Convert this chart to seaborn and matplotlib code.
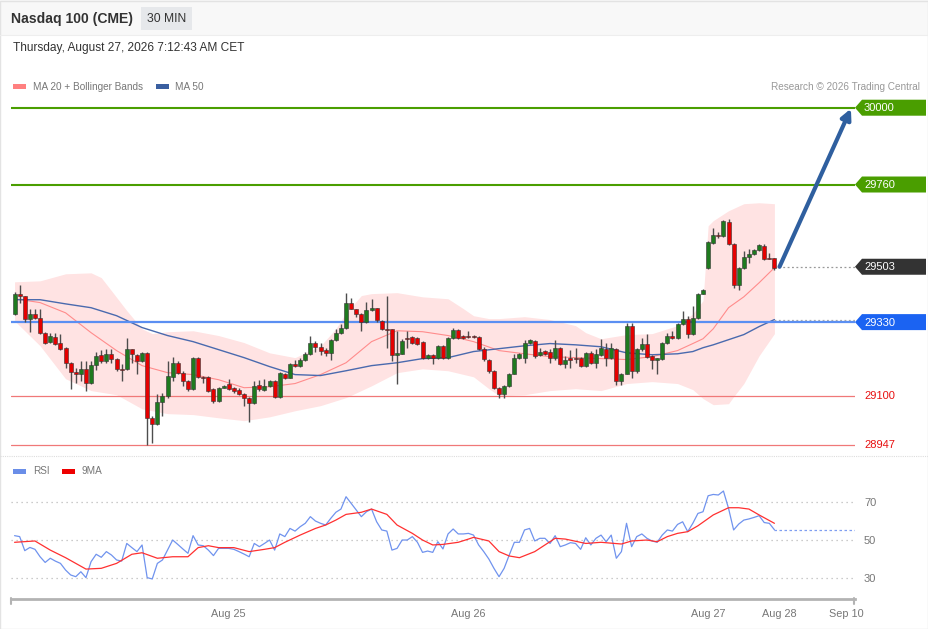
import matplotlib
matplotlib.use('Agg')
import matplotlib.pyplot as plt
from matplotlib.patches import Rectangle, Polygon
import seaborn as sns
import numpy as np
import pandas as pd

# 30분봉 캔들
opens = [29356, 29419, 29413, 29341, 29356, 29344, 29297, 29269, 29284, 29266,
         29250, 29203, 29175, 29169, 29184, 29141, 29197, 29228, 29209, 29231,
         29216, 29184, 29184, 29247, 29228, 29209, 29234, 29031, 29013, 29081,
         29100, 29159, 29203, 29172, 29147, 29122, 29219, 29159, 29159, 29122,
         29084, 29125, 29138, 29125, 29119, 29106, 29094, 29078, 29134, 29119,
         29131, 29147, 29097, 29169, 29156, 29200, 29194, 29213, 29231, 29266,
         29253, 29244, 29234, 29275, 29297, 29313, 29391, 29372, 29356, 29331,
         29369, 29375, 29334, 29309, 29309, 29228, 29231, 29281, 29284, 29281,
         29269, 29219, 29228, 29219, 29256, 29219, 29281, 29306, 29288, 29288,
         29288, 29284, 29247, 29213, 29178, 29125, 29106, 29131, 29169, 29219,
         29219, 29266, 29272, 29228, 29241, 29238, 29219, 29250, 29200, 29219,
         29219, 29219, 29194, 29234, 29203, 29228, 29247, 29219, 29247, 29147,
         29169, 29319, 29178, 29247, 29263, 29225, 29213, 29216, 29266, 29288,
         29281, 29325, 29341, 29294, 29344, 29419, 29500, 29578, 29603, 29600,
         29644, 29575, 29447, 29500, 29534, 29544, 29556, 29569, 29531, 29531]
highs = [29425, 29447, 29413, 29372, 29372, 29372, 29300, 29297, 29297, 29294,
         29253, 29206, 29188, 29209, 29209, 29209, 29238, 29244, 29247, 29247,
         29219, 29200, 29281, 29247, 29231, 29238, 29238, 29038, 29106, 29109,
         29209, 29222, 29209, 29178, 29150, 29222, 29222, 29163, 29163, 29125,
         29128, 29134, 29153, 29128, 29125, 29109, 29097, 29147, 29150, 29153,
         29150, 29150, 29175, 29172, 29203, 29213, 29219, 29238, 29288, 29272,
         29266, 29250, 29278, 29309, 29325, 29422, 29406, 29372, 29359, 29394,
         29403, 29375, 29338, 29413, 29309, 29303, 29278, 29303, 29288, 29284,
         29272, 29231, 29231, 29259, 29259, 29284, 29313, 29309, 29291, 29303,
         29291, 29288, 29253, 29216, 29181, 29128, 29134, 29172, 29231, 29234,
         29275, 29278, 29275, 29250, 29244, 29247, 29275, 29253, 29225, 29244,
         29250, 29222, 29238, 29241, 29247, 29278, 29266, 29266, 29250, 29172,
         29328, 29328, 29250, 29281, 29294, 29228, 29219, 29269, 29297, 29303,
         29328, 29366, 29350, 29381, 29422, 29434, 29584, 29625, 29613, 29650,
         29653, 29578, 29503, 29553, 29559, 29559, 29575, 29575, 29547, 29531]
lows = [29353, 29391, 29331, 29300, 29341, 29294, 29263, 29266, 29259, 29244,
        29188, 29122, 29141, 29147, 29116, 29138, 29181, 29203, 29203, 29203,
        29178, 29147, 29181, 29203, 29169, 29206, 28947, 28953, 29009, 29038,
        29094, 29147, 29169, 29131, 29116, 29119, 29156, 29141, 29113, 29078,
        29081, 29125, 29119, 29109, 29103, 29069, 29019, 29075, 29116, 29116,
        29128, 29094, 29094, 29153, 29156, 29191, 29191, 29209, 29228, 29238,
        29228, 29225, 29213, 29272, 29294, 29309, 29372, 29347, 29303, 29328,
        29366, 29331, 29306, 29250, 29209, 29138, 29231, 29250, 29263, 29259,
        29216, 29216, 29200, 29216, 29216, 29216, 29278, 29278, 29278, 29281,
        29281, 29244, 29209, 29172, 29122, 29094, 29094, 29128, 29169, 29216,
        29203, 29263, 29219, 29225, 29228, 29203, 29213, 29197, 29188, 29188,
        29203, 29191, 29191, 29200, 29188, 29225, 29194, 29216, 29134, 29134,
        29169, 29156, 29172, 29241, 29219, 29184, 29169, 29213, 29263, 29278,
        29278, 29322, 29281, 29291, 29341, 29419, 29497, 29575, 29594, 29597,
        29572, 29438, 29431, 29497, 29516, 29541, 29553, 29525, 29528, 29494]
closes = [29419, 29413, 29341, 29356, 29344, 29297, 29266, 29288, 29263, 29247,
          29203, 29175, 29169, 29184, 29141, 29197, 29225, 29209, 29231, 29216,
          29184, 29181, 29247, 29231, 29209, 29234, 29031, 29013, 29081, 29100,
          29163, 29203, 29172, 29147, 29122, 29219, 29159, 29156, 29116, 29084,
          29125, 29131, 29122, 29116, 29106, 29094, 29078, 29131, 29122, 29131,
          29147, 29097, 29172, 29156, 29200, 29194, 29213, 29231, 29266, 29253,
          29241, 29234, 29275, 29297, 29313, 29391, 29372, 29356, 29331, 29369,
          29375, 29338, 29309, 29306, 29228, 29234, 29272, 29278, 29266, 29263,
          29219, 29228, 29219, 29256, 29219, 29281, 29306, 29281, 29281, 29284,
          29284, 29247, 29216, 29178, 29125, 29106, 29131, 29169, 29219, 29231,
          29266, 29275, 29225, 29238, 29231, 29219, 29250, 29200, 29213, 29213,
          29216, 29194, 29234, 29203, 29231, 29250, 29219, 29250, 29147, 29169,
          29319, 29178, 29247, 29263, 29222, 29213, 29219, 29266, 29288, 29281,
          29325, 29341, 29294, 29344, 29419, 29431, 29581, 29603, 29600, 29647,
          29575, 29447, 29500, 29534, 29544, 29556, 29572, 29528, 29528, 29500]

# 이동평균 / 볼린저 밴드 (차트에서 읽은 지점)
ma20_idx = [0, 5, 10, 15, 20, 25, 30, 35, 40, 45, 50, 55, 60, 65, 70, 75, 80, 85, 90, 95,
            100, 105, 110, 115, 120, 125, 130, 133, 135, 137, 140, 143, 146, 149]
ma20 = [29403, 29391, 29359, 29297, 29241, 29194, 29172, 29166, 29150, 29125,
        29128, 29138, 29166, 29203, 29269, 29303, 29300, 29288, 29269, 29241,
        29231, 29222, 29219, 29216, 29213, 29222, 29241, 29263, 29278, 29309,
        29375, 29409, 29453, 29500]
ma50 = [29400, 29400, 29387, 29375, 29350, 29313, 29288, 29269, 29244, 29219,
        29191, 29166, 29163, 29178, 29194, 29203, 29216, 29219, 29238, 29247,
        29256, 29263, 29259, 29253, 29234, 29228, 29231, 29238, 29250, 29259,
        29275, 29291, 29316, 29338]
upper_idx = [0, 5, 10, 15, 17, 19, 22, 25, 27, 30, 35, 40, 45, 50, 55, 60, 63, 65, 68, 70,
             75, 80, 85, 88, 90, 93, 95, 100, 105, 110, 112, 115, 120, 125, 130, 133,
             135, 136, 137, 140, 143, 146, 149]
upper = [29456, 29459, 29481, 29484, 29469, 29428, 29366, 29309, 29294, 29300,
         29303, 29288, 29266, 29234, 29219, 29256, 29309, 29359, 29413, 29419,
         29422, 29409, 29403, 29372, 29350, 29341, 29341, 29347, 29338, 29319,
         29297, 29278, 29291, 29294, 29319, 29356, 29397, 29631, 29647, 29678,
         29700, 29703, 29700]
lower_idx = [0, 5, 10, 15, 20, 25, 30, 35, 40, 45, 50, 55, 60, 65, 70, 75, 80, 85, 90, 93,
             95, 100, 105, 110, 115, 120, 125, 130, 133, 135, 137, 140, 141, 143, 146, 149]
lower = [29334, 29256, 29153, 29116, 29103, 29059, 29044, 29041, 29031, 29022,
         29034, 29053, 29069, 29094, 29131, 29172, 29184, 29178, 29159, 29122,
         29100, 29103, 29116, 29122, 29116, 29138, 29144, 29138, 29119, 29091,
         29072, 29075, 29097, 29138, 29225, 29294]

# RSI 와 9MA
rsi = [52.3, 51.8, 44.4, 46.1, 45.1, 41.2, 38.2, 40.4, 38.9, 37.7,
       34.2, 31.6, 30.7, 33.3, 30.2, 38.6, 42.5, 40.9, 43.9, 42.1,
       39.5, 38.9, 48.2, 46.0, 43.9, 47.4, 30.2, 29.5, 37.7, 39.5,
       44.7, 50.0, 47.7, 45.3, 43.0, 52.3, 47.4, 47.0, 44.7, 41.8,
       45.6, 45.6, 45.6, 45.1, 43.9, 42.6, 41.2, 48.2, 46.5, 48.2,
       50.0, 44.7, 53.2, 51.8, 56.1, 54.7, 57.0, 58.8, 62.3, 60.0,
       58.8, 57.9, 61.4, 64.6, 66.3, 72.8, 69.3, 65.8, 62.3, 64.9,
       66.3, 59.6, 55.3, 54.7, 44.7, 45.6, 50.0, 50.0, 51.8, 48.8,
       43.5, 44.2, 43.5, 49.1, 45.3, 53.2, 55.8, 53.2, 53.2, 53.5,
       52.6, 47.4, 43.9, 40.0, 35.1, 30.7, 35.1, 42.1, 48.8, 48.8,
       55.3, 56.1, 49.5, 50.9, 50.9, 48.2, 52.3, 46.5, 47.4, 48.6,
       48.2, 45.1, 51.2, 47.4, 50.9, 52.6, 49.1, 52.6, 40.4, 43.9,
       58.8, 46.5, 51.8, 53.2, 50.9, 49.5, 48.8, 52.6, 55.3, 54.7,
       58.2, 59.6, 54.4, 58.8, 64.0, 64.9, 73.3, 74.0, 73.7, 75.8,
       66.7, 55.3, 58.4, 60.5, 61.1, 61.9, 62.8, 59.2, 58.8, 55.4]
rsi_ma_idx = [0, 4, 7, 10, 14, 17, 20, 23, 25, 28, 31, 34, 36, 38, 40, 43, 46, 49, 51, 53,
              56, 59, 61, 63, 65, 68, 70, 73, 75, 78, 80, 82, 84, 87, 89, 90, 93, 95, 97, 99,
              102, 106, 108, 112, 115, 119, 121, 124, 126, 128, 130, 132, 134, 137, 140,
              142, 144, 146, 149]
rsi_ma = [48.8, 49.5, 44.7, 40.7, 34.7, 35.1, 37.7, 42.5, 43.3, 40.4,
          41.2, 41.2, 46.0, 47.0, 46.0, 46.0, 43.9, 45.1, 46.0, 48.8,
          52.6, 56.1, 57.9, 60.5, 63.5, 64.6, 66.3, 63.5, 57.9, 53.5,
          50.0, 47.4, 47.7, 48.8, 50.5, 51.4, 49.5, 43.9, 41.6, 40.7,
          43.9, 50.9, 50.5, 48.2, 48.8, 47.9, 49.5, 50.0, 49.1, 51.8,
          53.5, 54.4, 57.5, 63.2, 67.0, 67.0, 66.3, 63.2, 58.8]

# 지지/저항 수준
level_values = [30000, 29760, 29503, 29330, 29100, 28947]
level_labels = ['30000', '29760', '29503', '29330', '29100', '28947']

tick_pos = [42, 89, 136, 150, 163]
tick_labels = ['Aug 25', 'Aug 26', 'Aug 27', 'Aug 28', 'Sep 10']

W, H = 929, 629
sns.set_theme(style='white')
plt.rcParams['font.family'] = ['Liberation Sans', 'DejaVu Sans']

fig = plt.figure(figsize=(W / 100, H / 100), dpi=100)
fig.patch.set_facecolor('white')


def px_rect(x0, y0, x1, y1):
    return [x0 / W, 1 - y1 / H, (x1 - x0) / W, (y1 - y0) / H]


XLIM = (-0.7, 164.8)
ax_p = fig.add_axes(px_rect(11, 95, 855, 452))
ax_r = fig.add_axes(px_rect(11, 480, 855, 599))

# ---- 가격 패널
df = pd.DataFrame({'o': opens, 'h': highs, 'l': lows, 'c': closes})
df['i'] = np.arange(len(df))
up = df['c'] >= df['o']
cols = np.where(up, '#1f7a1f', '#e50000')

band_u = pd.Series(upper, index=upper_idx)
band_l = pd.Series(lower, index=lower_idx)
grid = sorted(set(upper_idx) | set(lower_idx))
bu = band_u.reindex(grid).interpolate(method='index')
bl = band_l.reindex(grid).interpolate(method='index')
ax_p.fill_between(grid, bl.values, bu.values, color='#ffe3e3', lw=0, zorder=1)

ma_df = pd.DataFrame({'i': ma20_idx, 'ma20': ma20, 'ma50': ma50})
sns.lineplot(data=ma_df, x='i', y='ma20', ax=ax_p, color='#ff8c8c', lw=0.8, zorder=2)
sns.lineplot(data=ma_df, x='i', y='ma50', ax=ax_p, color='#4a6aae', lw=1.0, zorder=2)

ax_p.vlines(df['i'], df['l'], df['h'], color='#4d4d4d', lw=1, zorder=3)
body_lo = np.minimum(df['o'], df['c'])
body_h = np.maximum(np.abs(df['c'] - df['o']), 3)
ax_p.bar(df['i'], body_h, bottom=body_lo, width=0.78, color=cols,
         edgecolor='#333333', lw=0.4, zorder=4)

line_cols = {30000: '#4a9e00', 29760: '#4a9e00', 29330: '#5b8ff2',
             29100: '#f07878', 28947: '#f07878'}
line_w = {30000: 1.5, 29760: 1.5, 29330: 1.6, 29100: 0.9, 28947: 0.9}
for v in level_values:
    if v in line_cols:
        ax_p.axhline(v, color=line_cols[v], lw=line_w[v], zorder=2.5)

ax_p.hlines(level_values[2], len(df) - 1, XLIM[1], colors='#999999', lw=0.9,
            linestyles=(0, (1.5, 2)), zorder=2)
ax_p.hlines(ma50[-1], len(df) - 1, XLIM[1], colors='#aaaaaa', lw=0.9,
            linestyles=(0, (1.5, 2)), zorder=2)

ax_p.annotate('', xy=(164.0, level_values[0] - 3), xytext=(len(df), level_values[2]),
              arrowprops=dict(arrowstyle='-|>', color='#2f5f9f', lw=3,
                              mutation_scale=15, shrinkA=0, shrinkB=0), zorder=6)

ax_p.set_xlim(*XLIM)
ax_p.set_ylim(28924.1, 30039.7)
ax_p.axis('off')

# ---- RSI 패널
for g in [30, 50, 70]:
    ax_r.axhline(g, color='#bbbbbb', lw=0.9, ls=(0, (1, 3)), zorder=1)
rsi_df = pd.DataFrame({'i': np.arange(len(rsi)), 'rsi': rsi})
sns.lineplot(data=rsi_df, x='i', y='rsi', ax=ax_r, color='#7093ee', lw=0.9, zorder=3)
sns.lineplot(x=rsi_ma_idx, y=rsi_ma, ax=ax_r, color='#ff3030', lw=0.9, zorder=4)
ax_r.hlines(rsi[-1], len(rsi) - 1, XLIM[1], colors='#7f9ef0', lw=0.9,
            linestyles=(0, (2, 2)), zorder=2)
ax_r.set_xlim(*XLIM)
ax_r.set_ylim(18.95, 81.6)
for s in ['top', 'left', 'right']:
    ax_r.spines[s].set_visible(False)
ax_r.spines['bottom'].set_color('#b3b3b3')
ax_r.spines['bottom'].set_linewidth(2)
ax_r.set_yticks([])
ax_r.set_xticks(tick_pos)
ax_r.set_xticklabels(tick_labels, color='#777777', fontsize=7.8)
ax_r.tick_params(axis='x', length=0, pad=7)
ax_r.set_xlabel('')
ax_r.set_ylabel('')
ax_r.patch.set_alpha(0)

# ---- 오버레이 (텍스트, 라벨)
ov = fig.add_axes([0, 0, 1, 1])
ov.set_xlim(0, W)
ov.set_ylim(H, 0)
ov.axis('off')
ov.patch.set_alpha(0)

ov.add_patch(Rectangle((0, 0), W, 35, fc='#f8f8f8', ec='none'))
ov.add_patch(Rectangle((0.5, 0.5), W - 1, H - 1, fc='none', ec='#e3e3e3', lw=1))
ov.plot([0, W], [35, 35], color='#eeeeee', lw=0.8)
ov.text(11, 18.5, 'Nasdaq 100 (CME)', fontsize=10.1, fontweight='bold', color='#333333', va='center')
ov.add_patch(Rectangle((141, 7), 51, 23, fc='#e6e8eb', ec='none'))
ov.text(166.5, 18.5, '30 MIN', fontsize=8.7, color='#333333', va='center', ha='center')
ov.text(13, 48.5, 'Thursday, August 27, 2026 7:12:43 AM CET', fontsize=8.6, color='#333333', va='center')

ov.add_patch(Rectangle((13, 84), 13, 5, fc='#ff8080', ec='none'))
ov.text(33, 86.5, 'MA 20 + Bollinger Bands', fontsize=7.2, color='#777777', va='center')
ov.add_patch(Rectangle((156, 84), 13, 5, fc='#3a5fa0', ec='none'))
ov.text(175, 86.5, 'MA 50', fontsize=7.2, color='#777777', va='center')
ov.text(920, 86.5, 'Research \u00a9 2026 Trading Central', fontsize=7.2, color='#999999',
        va='center', ha='right')

ov.plot([0, W], [456, 456], color='#dddddd', lw=0.8, ls=(0, (1, 1)))
ov.add_patch(Rectangle((13, 469), 13, 5, fc='#6a8ee8', ec='none'))
ov.text(33, 471.5, 'RSI', fontsize=7.2, color='#777777', va='center')
ov.add_patch(Rectangle((62, 469), 13, 5, fc='#ee0000', ec='none'))
ov.text(82, 471.5, '9MA', fontsize=7.2, color='#777777', va='center')

for xe in [11.5, 854.5]:
    ov.plot([xe, xe], [598, 604], color='#b3b3b3', lw=1.5)

tag_bg = {30000: '#4a9e00', 29760: '#4a9e00', 29503: '#333333', 29330: '#1b63f2'}
for v, lab in zip(level_values, level_labels):
    ypx = H - ax_p.transData.transform((0, v))[1]
    if v in tag_bg:
        ov.add_patch(Polygon([(855, ypx), (862, ypx - 8), (926, ypx - 8),
                              (926, ypx + 8), (862, ypx + 8)], closed=True,
                             fc=tag_bg[v], ec='none'))
        ov.text(864, ypx + 0.5, lab, fontsize=8, color='white', va='center')
    else:
        ov.text(864, ypx + 0.5, lab, fontsize=8, color='#e81010', va='center')

for g in [70, 50, 30]:
    ypx = H - ax_r.transData.transform((0, g))[1]
    ov.text(864, ypx + 0.5, str(g), fontsize=8, color='#777777', va='center')

fig.savefig('out.png', dpi=100)
